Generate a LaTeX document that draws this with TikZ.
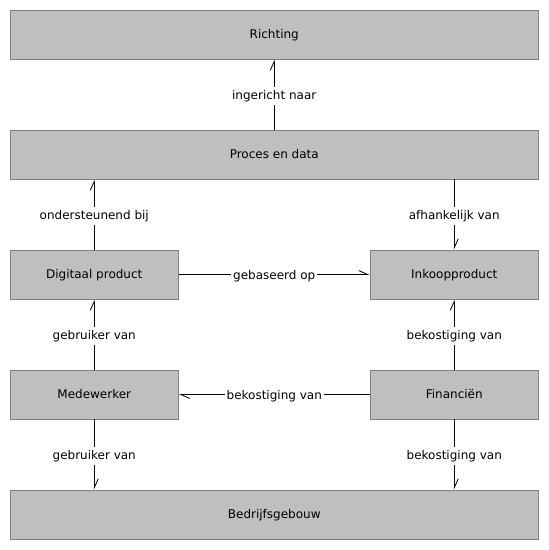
\documentclass[tikz,border=0pt]{standalone}
\usepackage{fontspec}
\setmainfont{DejaVu Sans}
\usetikzlibrary{arrows.meta,positioning}

\begin{document}
\begin{tikzpicture}[x=1pt, y=-1pt, font=\fontsize{12}{14}\selectfont,
      box/.style = {draw=gray, fill={rgb,255:red,191;green,191;blue,191}, line width=0.9pt, minimum height=49pt, inner sep=0pt, text height=8.5pt, text depth=1pt},
      wide/.style = {box, minimum width=528.5pt},
      narrow/.style = {box, minimum width=168.5pt},
      arr/.style = {-{Straight Barb[left, length=9pt, width=8pt]}, line width=0.8pt},
      lbl/.style = {fill=white, inner xsep=2pt, inner ysep=3.5pt, text height=9pt, text depth=2.5pt, yshift=-1.5pt, midway}]
      \useasboundingbox (0,0) rectangle (549,550);
      \node[wide] (richting) at (274.25,34.5) {Richting};
      \node[wide] (proces) at (274.25,154.5) {Proces en data};
      \node[narrow] (digitaal) at (94.25,274.5) {Digitaal product};
      \node[narrow] (inkoop) at (454.25,274.5) {Inkoopproduct};
      \node[narrow] (medewerker) at (94.25,394.5) {Medewerker};
      \node[narrow] (financien) at (454.25,394.5) {Financiën};
      \node[wide] (gebouw) at (274.25,514.5) {Bedrijfsgebouw};
      
      \draw[arr] (proces) -- node[lbl] {ingericht naar} (richting);
      \draw[arr] (digitaal) -- node[lbl] {ondersteunend bij} (digitaal |- proces.south);
      \draw[arr] (inkoop |- proces.south) -- node[lbl] {afhankelijk van} (inkoop);
      \draw[arr] (digitaal) -- node[lbl] {gebaseerd op} (inkoop);
      \draw[arr] (medewerker) -- node[lbl] {gebruiker van} (digitaal);
      \draw[arr] (financien) -- node[lbl] {bekostiging van} (inkoop);
      \draw[arr] (financien) -- node[lbl] {bekostiging van} (medewerker);
      \draw[arr] (medewerker) -- node[lbl] {gebruiker van} (medewerker |- gebouw.north);
      \draw[arr] (financien) -- node[lbl] {bekostiging van} (financien |- gebouw.north);
\end{tikzpicture}
\end{document}
